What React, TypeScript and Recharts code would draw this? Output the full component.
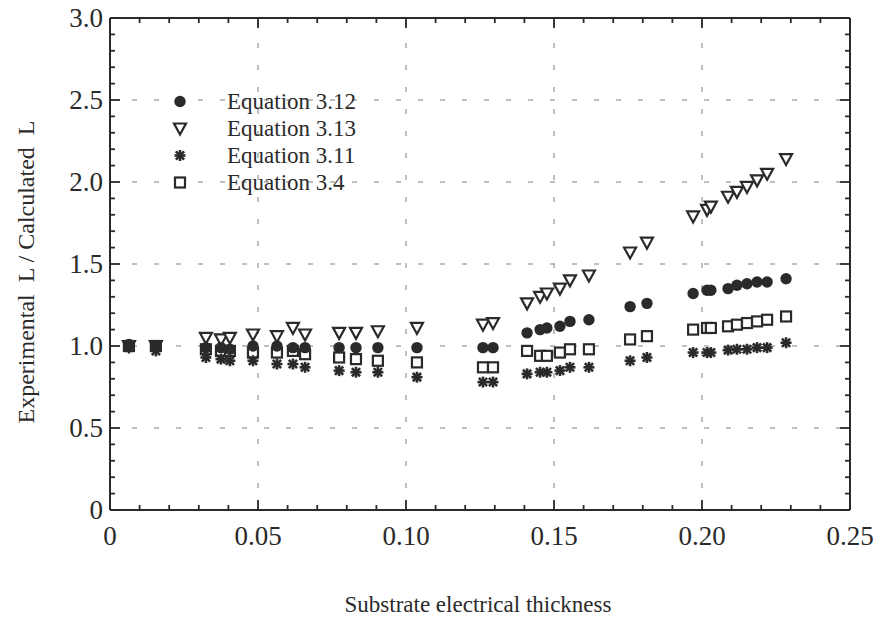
import React from 'react';
import { ScatterChart, Scatter, XAxis, YAxis, ReferenceLine, Legend, Label } from 'recharts';

// Substrate electrical thickness (x) shared by all series
const thickness = [
  0.0064, 0.0155, 0.0324, 0.0375, 0.0405, 0.0483, 0.0564, 0.0618, 0.0659, 0.0774,
  0.0831, 0.0905, 0.1037, 0.126, 0.1294, 0.1409, 0.1453, 0.1476, 0.152, 0.1554,
  0.1618, 0.1757, 0.1814, 0.197, 0.2017, 0.203, 0.2088, 0.2118, 0.2152, 0.2186,
  0.222, 0.2284,
];
const eq312 = [
  1.01, 1.0, 0.99, 0.99, 0.98, 1.0, 1.0, 0.99, 0.99, 0.99,
  0.99, 0.99, 0.99, 0.99, 0.99, 1.08, 1.1, 1.11, 1.12, 1.15,
  1.16, 1.24, 1.26, 1.32, 1.34, 1.34, 1.35, 1.37, 1.38, 1.39,
  1.39, 1.41,
];
const eq313 = [
  1.0, 1.0, 1.05, 1.04, 1.05, 1.07, 1.06, 1.11, 1.07, 1.08,
  1.08, 1.09, 1.11, 1.13, 1.14, 1.26, 1.3, 1.32, 1.35, 1.4,
  1.43, 1.57, 1.63, 1.79, 1.83, 1.85, 1.91, 1.94, 1.97, 2.01,
  2.05, 2.14,
];
const eq311 = [
  0.99, 0.97, 0.93, 0.92, 0.91, 0.91, 0.89, 0.89, 0.87, 0.85,
  0.84, 0.84, 0.81, 0.78, 0.78, 0.83, 0.84, 0.84, 0.85, 0.87,
  0.87, 0.91, 0.93, 0.96, 0.96, 0.96, 0.975, 0.98, 0.98, 0.99,
  0.99, 1.02,
];
const eq34 = [
  1.0, 1.0, 0.98, 0.97, 0.97, 0.96, 0.96, 0.97, 0.95, 0.93,
  0.92, 0.91, 0.9, 0.87, 0.87, 0.97, 0.94, 0.94, 0.96, 0.98,
  0.98, 1.04, 1.06, 1.1, 1.11, 1.11, 1.12, 1.13, 1.14, 1.15,
  1.16, 1.18,
];

const seriesNames = ['Equation 3.12', 'Equation 3.13', 'Equation 3.11', 'Equation 3.4'];
const xTickLabels = ['0', '0.05', '0.10', '0.15', '0.20', '0.25'];
const yTickLabels = ['0', '0.5', '1.0', '1.5', '2.0', '2.5', '3.0'];
const xGrid = [0.05, 0.1, 0.15, 0.2];
const yGrid = [0.5, 1.0, 1.5, 2.0, 2.5];

const xMinorTicks = Array.from({ length: 26 }, (_, i) => i / 100);
const yMinorTicks = Array.from({ length: 31 }, (_, i) => i / 10);

const toPoints = (ys: number[]) => thickness.map((x, i) => ({ x, y: ys[i] }));

const FONT = '"Liberation Serif", "Times New Roman", serif';
const INK = '#2a2a2a';

const CircleMark = (p: any) => <circle cx={p.cx} cy={p.cy} r={5.7} fill={INK} />;
const TriMark = (p: any) => (
  <polygon
    points={`${p.cx - 6},${p.cy - 5} ${p.cx + 6},${p.cy - 5} ${p.cx},${p.cy + 6}`}
    fill="#fff" stroke={INK} strokeWidth={2.2} strokeLinejoin="miter"
  />
);
const SquareMark = (p: any) => (
  <rect x={p.cx - 5} y={p.cy - 5} width={10} height={10} fill="#fff" stroke={INK} strokeWidth={2.2} />
);
const StarMark = (p: any) => {
  const r = 5.5;
  const d = r * 0.75;
  return (
    <g stroke={INK} strokeWidth={2.6}>
      <line x1={p.cx - r} y1={p.cy} x2={p.cx + r} y2={p.cy} />
      <line x1={p.cx} y1={p.cy - r} x2={p.cx} y2={p.cy + r} />
      <line x1={p.cx - d} y1={p.cy - d} x2={p.cx + d} y2={p.cy + d} />
      <line x1={p.cx - d} y1={p.cy + d} x2={p.cx + d} y2={p.cy - d} />
    </g>
  );
};
const markers = [CircleMark, TriMark, StarMark, SquareMark];

const BottomTick = (props: any) => {
  const { x, y, index } = props;
  const major = index % 5 === 0;
  return (
    <g>
      <line x1={x} y1={y} x2={x} y2={y - (major ? 10 : 5)} stroke={INK} strokeWidth={1.8} />
      {major && (
        <text x={x} y={y + 35} textAnchor="middle" fontSize={27} fontFamily={FONT} fill={INK}>
          {xTickLabels[index / 5]}
        </text>
      )}
    </g>
  );
};
const TopTick = (props: any) => {
  const { x, y, index } = props;
  const major = index % 5 === 0;
  return <line x1={x} y1={y} x2={x} y2={y + (major ? 10 : 5)} stroke={INK} strokeWidth={1.8} />;
};
const LeftTick = (props: any) => {
  const { x, y, index } = props;
  const major = index % 5 === 0;
  return (
    <g>
      <line x1={x} y1={y} x2={x + (major ? 10 : 5)} y2={y} stroke={INK} strokeWidth={1.8} />
      {major && (
        <text x={x - 7} y={y + 9} textAnchor="end" fontSize={27} fontFamily={FONT} fill={INK}>
          {yTickLabels[index / 5]}
        </text>
      )}
    </g>
  );
};
const RightTick = (props: any) => {
  const { x, y, index } = props;
  const major = index % 5 === 0;
  return <line x1={x} y1={y} x2={x - (major ? 10 : 5)} y2={y} stroke={INK} strokeWidth={1.8} />;
};

const LegendContent = () => (
  <div style={{ fontFamily: FONT, fontSize: 23, color: INK }}>
    {seriesNames.map((name, i) => {
      const M = markers[i];
      return (
        <div key={name} style={{ display: 'flex', alignItems: 'center', height: 27 }}>
          <svg width={20} height={27} style={{ display: 'block' }}>
            <M cx={10} cy={13.5} />
          </svg>
          <span style={{ marginLeft: 37, lineHeight: '27px', whiteSpace: 'nowrap' }}>{name}</span>
        </div>
      );
    })}
  </div>
);

const axisLine = { stroke: INK, strokeWidth: 2 };

export default function App() {
  return (
    <div style={{ position: 'absolute', left: 0, top: 0, width: 877, height: 622, background: '#fff' }}>
      <ScatterChart width={877} height={622} margin={{ top: 17, right: 26, bottom: 111, left: 109 }}>
        <XAxis
          xAxisId="b" type="number" dataKey="x" orientation="bottom" domain={[0, 0.25]} allowDataOverflow
          ticks={xMinorTicks} interval={0} height={1} tickSize={0} tickMargin={0}
          tick={BottomTick} axisLine={axisLine} tickLine={false}
        >
          <Label
            content={() => (
              <text x={478} y={612} textAnchor="middle" fontSize={23} fontFamily={FONT} fill={INK}>
                Substrate electrical thickness
              </text>
            )}
          />
        </XAxis>
        <XAxis
          xAxisId="t" type="number" dataKey="x" orientation="top" domain={[0, 0.25]} allowDataOverflow
          ticks={xMinorTicks} interval={0} height={1} tickSize={0} tickMargin={0}
          tick={TopTick} axisLine={axisLine} tickLine={false}
        />
        <YAxis
          yAxisId="l" type="number" dataKey="y" orientation="left" domain={[0, 3]} allowDataOverflow
          ticks={yMinorTicks} interval={0} width={1} tickSize={0} tickMargin={0}
          tick={LeftTick} axisLine={axisLine} tickLine={false}
        >
          <Label
            content={() => (
              <text
                x={34} y={272} textAnchor="middle" fontSize={24} fontFamily={FONT} fill={INK}
                transform="rotate(-90 34 272)" style={{ whiteSpace: 'pre' }}
              >
                {'Experimental  L / Calculated  L'}
              </text>
            )}
          />
        </YAxis>
        <YAxis
          yAxisId="r" type="number" dataKey="y" orientation="right" domain={[0, 3]} allowDataOverflow
          ticks={yMinorTicks} interval={0} width={1} tickSize={0} tickMargin={0}
          tick={RightTick} axisLine={axisLine} tickLine={false}
        />
        {xGrid.map((v) => (
          <ReferenceLine key={'gx' + v} xAxisId="b" yAxisId="l" x={v} stroke="#aaa" strokeWidth={1.5} strokeDasharray="5 17" />
        ))}
        {yGrid.map((v) => (
          <ReferenceLine key={'gy' + v} xAxisId="b" yAxisId="l" y={v} stroke="#aaa" strokeWidth={1.5} strokeDasharray="5 17" />
        ))}
        <Legend
          content={LegendContent}
          layout="vertical" align="center" verticalAlign="middle"
          wrapperStyle={{ left: 170, top: 88, width: 260, height: 108 }}
        />
        <Scatter name={seriesNames[3]} xAxisId="b" yAxisId="l" data={toPoints(eq34)} shape={SquareMark} isAnimationActive={false} />
        <Scatter name={seriesNames[2]} xAxisId="b" yAxisId="l" data={toPoints(eq311)} shape={StarMark} isAnimationActive={false} />
        <Scatter name={seriesNames[1]} xAxisId="b" yAxisId="l" data={toPoints(eq313)} shape={TriMark} isAnimationActive={false} />
        <Scatter name={seriesNames[0]} xAxisId="b" yAxisId="l" data={toPoints(eq312)} shape={CircleMark} isAnimationActive={false} />
      </ScatterChart>
    </div>
  );
}
